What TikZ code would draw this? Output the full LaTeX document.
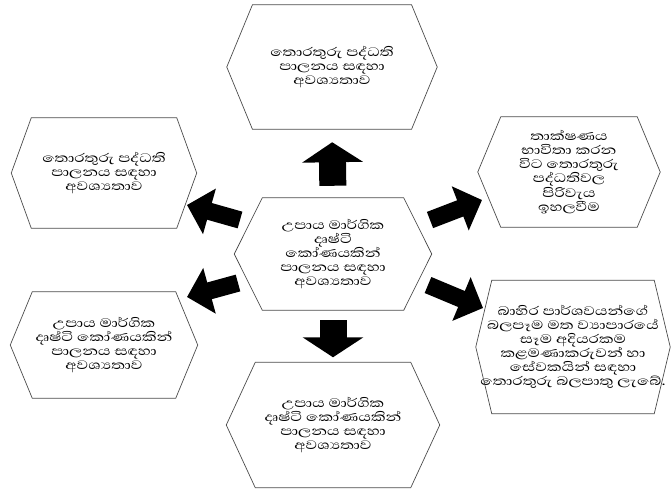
\documentclass[tikz,border=0pt]{standalone}
\usepackage{fontspec}
\newfontfamily\sinhala[Script=Sinhala, FakeStretch=1.3]{Abhaya Libre}
\usetikzlibrary{arrows.meta}

\newcommand{\hexfont}{\sinhala\fontsize{13.5}{12}\selectfont\setlength{\lineskiplimit}{-20pt}}

\tikzset{
  hexbox/.style={rectangle, align=center, inner sep=0pt, font=\hexfont},
  hexline/.style={draw=black!70, line width=0.6pt},
  bigarrow/.style={line width=0.81cm, -{Triangle[width=1.8cm, length=0.6cm]}},
  slantarrow/.style={line width=0.52cm, -{Triangle[width=1.38cm, length=0.7cm]}}
}
% hexagon round a node, #2 = how far in the top corners sit
\newcommand{\hexframe}[2]{\draw[hexline] (#1.west) -- ([xshift=#2]#1.north west) -- ([xshift=-#2]#1.north east)
	-- (#1.east) -- ([xshift=-#2]#1.south east) -- ([xshift=#2]#1.south west) -- cycle;}

\begin{document}
\begin{tikzpicture}[x=0.03cm, y=-0.03cm]
	\useasboundingbox (0,0) rectangle (671,491);

	\node[hexbox, minimum width=6.3cm, minimum height=3.72cm] (top) at (332,67)
		{තොරතුරු පද්ධති\\ පාලනය සඳහා\\ අවශ්‍යතාව};
	\node[hexbox, minimum width=5.91cm, minimum height=3.36cm] (mid) at (333,254)
		{උපාය මාර්ගික\\ දෘෂ්ටි\\ කෝණයකින්\\ පාලනය සඳහා\\ අවශ්‍යතාව};
	\node[hexbox, minimum width=5.55cm, minimum height=3.3cm] (tl) at (104,173)
		{තොරතුරු පද්ධති\\ පාලනය සඳහා\\ අවශ්‍යතාව};
	\node[hexbox, minimum width=5.46cm, minimum height=3.3cm] (tr) at (569,172)
		{තාක්ෂණය\\ භාවිතා කරන\\ විට තොරතුරු\\ පද්ධතිවල\\ පිරිවැය\\ ඉහලවීම};
	\node[hexbox, minimum width=5.61cm, minimum height=3.18cm] (bl) at (104,345)
		{උපාය මාර්ගික\\ දෘෂ්ටි කෝණයකින්\\ පාලනය සඳහා\\ අවශ්‍යතාව};
	\node[hexbox, minimum width=5.82cm, minimum height=3.99cm] (br) at (573,347)
		{බාහිර පාර්ශවයන්ගේ\\ බලපෑම මත ව්‍යාපාරයේ\\ සෑම අදියරකම\\ කළමණාකරුවන් හා\\ සේවකයින් සඳහා\\ තොරතුරු බලපාතු ලැබේ.};
	\node[hexbox, minimum width=6.39cm, minimum height=3.75cm] (bot) at (333,425)
		{උපාය මාර්ගික\\ දෘෂ්ටි කෝණයකින්\\ පාලනය සඳහා\\ අවශ්‍යතාව};

	\hexframe{top}{0.77cm}
	\hexframe{mid}{0.84cm}
	\hexframe{tl}{0.6cm}
	\hexframe{tr}{0.69cm}
	\hexframe{bl}{0.66cm}
	\hexframe{br}{0.48cm}
	\hexframe{bot}{0.87cm}

	% arrow ends
	\coordinate (ul1) at (240,220); \coordinate (ul2) at (187,205);
	\coordinate (ll1) at (238,283); \coordinate (ll2) at (187,297);
	\coordinate (ur1) at (430,220); \coordinate (ur2) at (482,200);
	\coordinate (lr1) at (428,285); \coordinate (lr2) at (483,308);

	\draw[bigarrow, shorten <=0.36cm, shorten >=0.39cm] (mid.north) -- (top.south);
	\draw[bigarrow, shorten <=0.3cm, shorten >=0.15cm] (mid.south) -- (bot.north);
	\draw[slantarrow] (ul1) -- (ul2);
	\draw[slantarrow] (ll1) -- (ll2);
	\draw[slantarrow] (ur1) -- (ur2);
	\draw[slantarrow] (lr1) -- (lr2);
\end{tikzpicture}
\end{document}
